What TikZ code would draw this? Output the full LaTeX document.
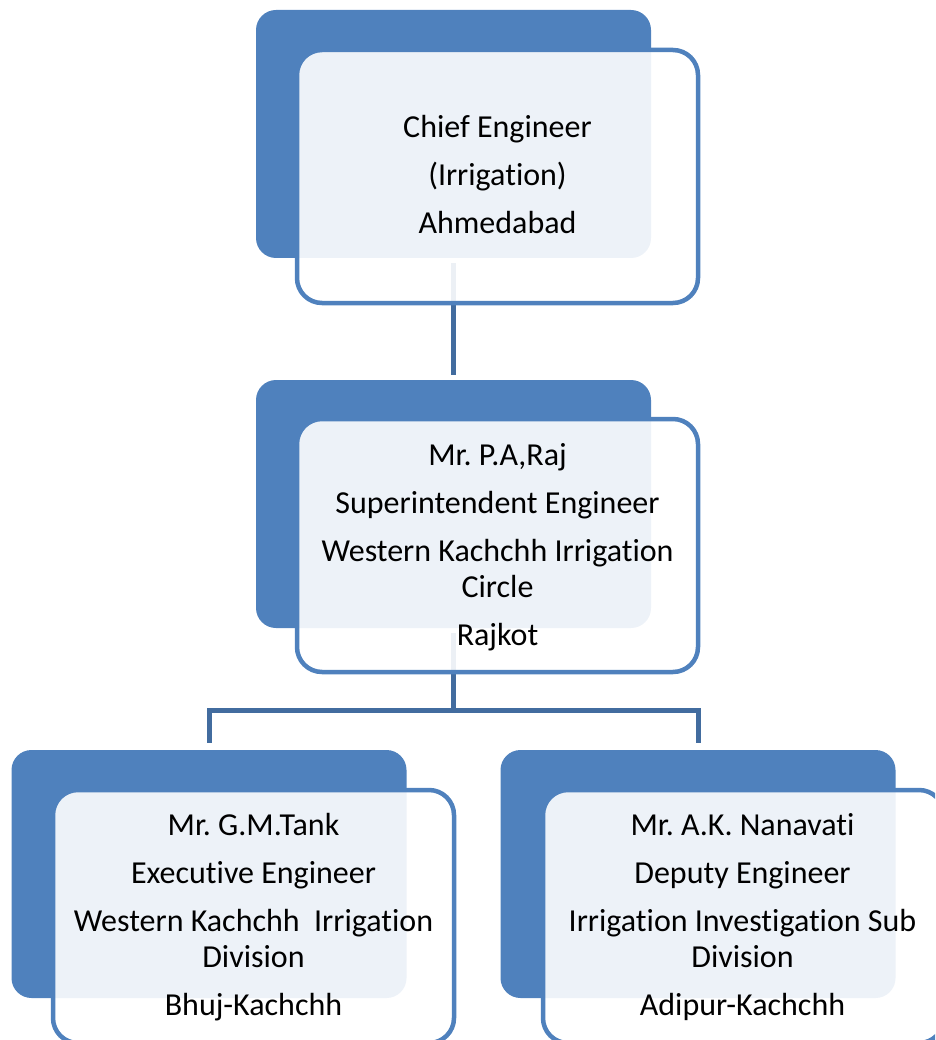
\documentclass[tikz,border=0pt]{standalone}
\usepackage{fontspec}
\setmainfont{Carlito}[Ligatures={NoCommon,NoRare,NoContextual}]
\frenchspacing
\definecolor{accent}{HTML}{4F81BD}
\definecolor{conn}{HTML}{426C9F}
\tikzset{
  darkbox/.style={fill=accent, rounded corners=20pt, inner sep=0pt, minimum width=395pt, minimum height=248pt},
  outbox/.style={draw=accent, line width=4.5pt, fill=white, fill opacity=0.9, rounded corners=25pt, inner sep=0pt, minimum width=401pt, minimum height=253pt},
  boxlabel/.style={align=center, inner sep=0pt, anchor=north, font=\fontsize{32}{36}\selectfont\frenchspacing},
  connector/.style={draw=conn, line width=5pt},
}
\begin{document}
\begin{tikzpicture}[x=1pt,y=-1pt]
\useasboundingbox (0,0) rectangle (935,1040);
\clip (0,0) rectangle (935,1040);
% dark boxes (positions only, connectors drawn before the boxes)
\path (453.5,134) node[darkbox, fill=none] (d1) {};
\path (453.5,504) node[darkbox, fill=none] (d2) {};
\path (209,874) node[darkbox, fill=none] (d3) {};
\path (698,874) node[darkbox, fill=none] (d4) {};
\coordinate (bar) at (0,710);
% connectors
\draw[connector] ([yshift=-5pt]d1.south) -- ([yshift=5pt]d2.north);
\draw[connector] ([yshift=-5pt]d2.south) -- (d2.south |- bar);
\draw[connector] ([yshift=7pt]d3.north) |- (d2.south |- bar) -| ([yshift=7pt]d4.north);
% boxes
\node[darkbox] (b1) at (d1) {};
\node[outbox] (o1) at (497.5,176.5) {};
\node[darkbox] (b2) at (d2) {};
\node[outbox] (o2) at (497.5,545.5) {};
\node[darkbox] (b3) at (d3) {};
\node[outbox] (o3) at (253.5,916.5) {};
\node[darkbox] (b4) at (d4) {};
\node[outbox] (o4) at (743.5,916.5) {};
% labels
\node[boxlabel] (t1) at (497.5,112.5) {\strut Chief Engineer\\[12pt] (Irrigation)\\[12pt] Ahmedabad};
\node[boxlabel] (t2) at (497.5,440.5) {\strut Mr. P.A,Raj\\[12pt] Superintendent Engineer\\[12pt] Western Kachchh Irrigation\\ Circle\\[12pt] Rajkot};
\node[boxlabel] (t3) at (253.5,810.5) {\strut Mr. G.M.Tank\\[12pt] Executive Engineer\\[12pt] Western Kachchh\ \ Irrigation\\ Division\\[12pt] Bhuj-Kachchh};
\node[boxlabel] (t4) at (742.5,810.5) {\strut Mr. A.K. Nanavati\\[12pt] Deputy Engineer\\[12pt] Irrigation Investigation Sub\\ Division\\[12pt] Adipur-Kachchh};
\end{tikzpicture}
\end{document}
